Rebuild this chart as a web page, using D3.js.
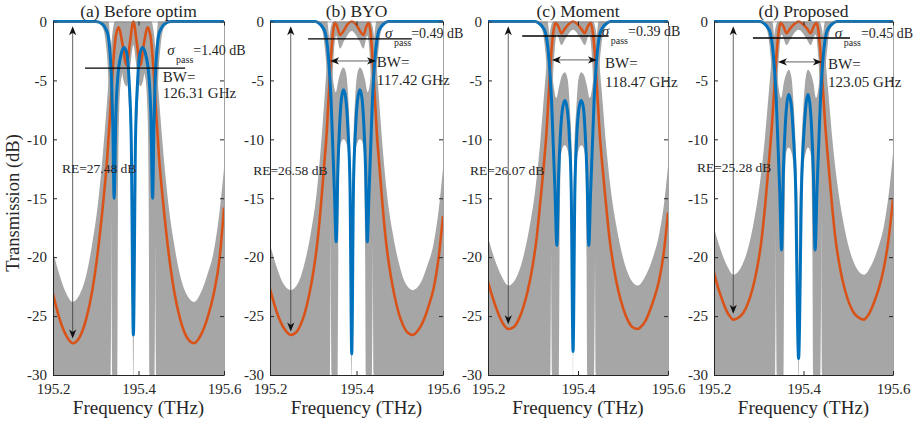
<!DOCTYPE html>
<html>
<head>
<meta charset="utf-8">
<script src="https://cdn.jsdelivr.net/npm/d3@7"></script>
<style>
  body { margin: 0; background: #fff; }
  svg text { font-family: "Liberation Serif", "Times New Roman", serif; fill: #262626; }
</style>
</head>
<body>
<svg id="chart" width="913" height="421"></svg>
<script>
// ---- axis ticks and labels
const xTicks = [195.2, 195.4, 195.6];
const yTicks = [-30, -25, -20, -15, -10, -5, 0];
const titles = ["(a) Before optim", "(b) BYO", "(c) Moment", "(d) Proposed"];
const reValues = [27.48, 26.58, 26.07, 25.28];
const sigmaValues = [1.40, 0.49, 0.39, 0.45];
const bwValues = [126.31, 117.42, 118.47, 123.05];

// ---- (a) Before optim : [frequency THz, transmission dB]
const orangeA = [[195.200,-23.1],[195.215,-25.2],[195.230,-26.6],[195.246,-27.3],[195.262,-26.8],[195.278,-25.2],[195.292,-22.8],[195.305,-19.5],[195.317,-15.5],[195.327,-11.5],[195.335,-7.0],[195.341,-3.5],[195.347,-1.2],[195.354,-0.5],[195.362,-1.8],[195.372,-3.7],[195.380,-1.8],[195.388,0],[195.396,-1.8],[195.404,-3.7],[195.413,-1.8],[195.421,-0.5],[195.428,-1.2],[195.434,-3.5],[195.440,-7.0],[195.448,-11.5],[195.458,-15.5],[195.470,-19.5],[195.483,-22.8],[195.497,-25.2],[195.513,-26.8],[195.530,-27.3],[195.546,-26.6],[195.561,-25.2],[195.576,-23.1],[195.590,-20.0],[195.600,-15.8]];
const blueA = [[195.200,0],[195.300,0],[195.315,-0.2],[195.323,-0.6],[195.329,-1.2],[195.333,-2.5],[195.337,-5.0],[195.340,-9.0],[195.343,-15.0],[195.347,-8.0],[195.352,-4.5],[195.358,-3.0],[195.366,-2.2],[195.372,-2.6],[195.378,-5.0],[195.383,-10.0],[195.388,-26.6],[195.393,-10.0],[195.398,-5.0],[195.404,-2.6],[195.410,-2.2],[195.418,-3.0],[195.424,-4.5],[195.429,-8.0],[195.433,-15.0],[195.436,-9.0],[195.439,-5.0],[195.443,-2.5],[195.447,-1.2],[195.453,-0.6],[195.461,-0.2],[195.476,0],[195.600,0]];
const dropHiA = [[195.200,-19.5],[195.215,-21.5],[195.230,-23.0],[195.246,-23.8],[195.262,-23.2],[195.278,-21.5],[195.292,-18.8],[195.305,-15.5],[195.316,-11.5],[195.326,-7.0],[195.333,-3.5],[195.339,-1.0],[195.345,0],[195.430,0],[195.436,-1.0],[195.442,-3.5],[195.449,-7.0],[195.459,-11.5],[195.470,-15.5],[195.483,-18.8],[195.497,-21.5],[195.513,-23.2],[195.530,-23.8],[195.546,-23.0],[195.561,-21.5],[195.576,-19.5],[195.590,-16.0],[195.600,-12.5]];
const dropLoA = [[195.200,-31],[195.334,-31],[195.338,-16],[195.342,-8],[195.348,-4],[195.356,-3.0],[195.365,-5.0],[195.372,-5.5],[195.380,-4.0],[195.388,-2.0],[195.396,-4.0],[195.404,-5.5],[195.411,-5.0],[195.420,-3.0],[195.428,-4],[195.434,-8],[195.438,-16],[195.442,-31],[195.600,-31]];
const thruHiA = [[195.300,0],[195.330,0],[195.334,-1.5],[195.338,-3],[195.342,-4],[195.348,-3.5],[195.355,-2.0],[195.362,-1.2],[195.368,-1.3],[195.375,-2.8],[195.381,-6],[195.385,-12],[195.388,-24],[195.391,-12],[195.395,-6],[195.401,-2.8],[195.408,-1.3],[195.414,-1.2],[195.421,-2.0],[195.428,-3.5],[195.434,-4],[195.438,-3],[195.442,-1.5],[195.446,0],[195.478,0]];
const thruLoA = [[195.300,0],[195.316,-0.5],[195.324,-2],[195.331,-6],[195.336,-15],[195.339,-31],[195.350,-31],[195.352,-16],[195.355,-7.5],[195.360,-4.8],[195.366,-4.2],[195.372,-4.6],[195.378,-7.5],[195.383,-13],[195.386,-22],[195.388,-31],[195.390,-22],[195.393,-13],[195.398,-7.5],[195.404,-4.6],[195.410,-4.2],[195.416,-4.8],[195.421,-7.5],[195.424,-16],[195.426,-31],[195.437,-31],[195.440,-15],[195.445,-6],[195.452,-2],[195.460,-0.5],[195.478,0]];

// ---- (b) BYO
const orangeB = [[195.200,-22.7],[195.210,-24.0],[195.220,-25.1],[195.230,-25.9],[195.240,-26.4],[195.248,-26.6],[195.260,-26.4],[195.270,-25.8],[195.280,-24.8],[195.290,-23.3],[195.300,-21.3],[195.310,-18.6],[195.318,-15.5],[195.325,-12.3],[195.331,-9.5],[195.337,-5.5],[195.342,-2.5],[195.346,-0.8],[195.350,-0.1],[195.355,-0.4],[195.362,-1.15],[195.370,-0.8],[195.380,-0.2],[195.389,0],[195.398,-0.2],[195.408,-0.8],[195.416,-1.15],[195.423,-0.4],[195.428,-0.1],[195.432,-0.8],[195.436,-2.5],[195.441,-5.5],[195.447,-9.5],[195.453,-12.3],[195.460,-15.5],[195.468,-18.6],[195.478,-21.3],[195.488,-23.3],[195.498,-24.8],[195.508,-25.8],[195.518,-26.4],[195.530,-26.6],[195.538,-26.4],[195.548,-25.9],[195.558,-25.1],[195.568,-24.0],[195.578,-22.7],[195.590,-20.0],[195.600,-16.5]];
const blueB = [[195.200,0],[195.305,0],[195.315,-0.2],[195.322,-0.5],[195.328,-1.0],[195.333,-2.2],[195.337,-4.0],[195.341,-6.5],[195.345,-10.5],[195.349,-14.5],[195.353,-18.7],[195.357,-12.5],[195.361,-8.8],[195.365,-6.6],[195.370,-5.8],[195.375,-6.5],[195.380,-9.0],[195.385,-14.0],[195.389,-28.2],[195.393,-14.0],[195.398,-9.0],[195.403,-6.5],[195.408,-5.8],[195.413,-6.6],[195.417,-8.8],[195.421,-12.5],[195.425,-18.7],[195.429,-14.5],[195.433,-10.5],[195.437,-6.5],[195.441,-4.0],[195.445,-2.2],[195.450,-1.0],[195.456,-0.5],[195.463,-0.2],[195.473,0],[195.600,0]];
const dropHiB = [[195.200,-18.9],[195.215,-20.8],[195.230,-22.2],[195.248,-22.8],[195.265,-22.2],[195.280,-20.5],[195.295,-17.8],[195.308,-14.5],[195.318,-10.5],[195.327,-6.0],[195.334,-2.5],[195.340,-0.6],[195.346,0],[195.432,0],[195.438,-0.6],[195.444,-2.5],[195.451,-6.0],[195.460,-10.5],[195.470,-14.5],[195.483,-17.8],[195.498,-20.5],[195.513,-22.2],[195.530,-22.8],[195.548,-22.2],[195.563,-20.8],[195.578,-18.9],[195.590,-16.0],[195.600,-12.5]];
const dropLoB = [[195.200,-31],[195.338,-31],[195.341,-15],[195.344,-6],[195.348,-2.5],[195.353,-1.2],[195.362,-2.3],[195.372,-1.6],[195.389,-0.8],[195.406,-1.6],[195.416,-2.3],[195.425,-1.2],[195.430,-2.5],[195.434,-6],[195.437,-15],[195.440,-31],[195.600,-31]];
const thruHiB = [[195.300,0],[195.332,0],[195.337,-1.5],[195.341,-3.5],[195.346,-5],[195.352,-6],[195.358,-5],[195.364,-4.2],[195.370,-3.9],[195.376,-4.4],[195.381,-6.5],[195.385,-10],[195.388,-17],[195.389,-24],[195.390,-17],[195.393,-10],[195.397,-6.5],[195.402,-4.4],[195.408,-3.9],[195.414,-4.2],[195.420,-5],[195.426,-6],[195.432,-5],[195.437,-3.5],[195.441,-1.5],[195.446,0],[195.478,0]];
const thruLoB = [[195.300,0],[195.318,-0.5],[195.326,-2],[195.333,-6],[195.339,-15],[195.343,-31],[195.356,-31],[195.358,-20],[195.361,-11],[195.365,-10.2],[195.370,-10],[195.375,-10.2],[195.380,-11],[195.384,-15],[195.387,-22],[195.389,-31],[195.391,-22],[195.394,-15],[195.398,-11],[195.403,-10.2],[195.408,-10],[195.413,-10.2],[195.417,-11],[195.420,-20],[195.422,-31],[195.435,-31],[195.439,-15],[195.445,-6],[195.452,-2],[195.460,-0.5],[195.478,0]];

// ---- (c) Moment
const orangeC = [[195.200,-22.1],[195.210,-23.4],[195.220,-24.5],[195.230,-25.4],[195.238,-25.9],[195.245,-26.1],[195.258,-25.9],[195.268,-25.3],[195.278,-24.3],[195.288,-22.9],[195.298,-21.0],[195.308,-18.4],[195.316,-15.4],[195.324,-12.2],[195.330,-9.4],[195.336,-5.5],[195.341,-2.5],[195.346,-0.7],[195.350,-0.1],[195.356,-0.4],[195.363,-1.0],[195.371,-0.6],[195.380,-0.2],[195.389,0],[195.398,-0.2],[195.407,-0.6],[195.415,-1.0],[195.422,-0.4],[195.428,-0.1],[195.432,-0.7],[195.437,-2.5],[195.442,-5.5],[195.448,-9.4],[195.454,-12.2],[195.462,-15.4],[195.470,-18.4],[195.480,-21.0],[195.490,-22.9],[195.500,-24.3],[195.510,-25.3],[195.520,-25.9],[195.533,-26.1],[195.540,-25.9],[195.550,-25.4],[195.560,-24.5],[195.570,-23.4],[195.580,-22.0],[195.591,-19.5],[195.600,-16.2]];
const blueC = [[195.200,0],[195.305,0],[195.315,-0.2],[195.322,-0.5],[195.328,-1.0],[195.333,-2.2],[195.337,-4.0],[195.341,-6.5],[195.345,-10.5],[195.349,-14.5],[195.353,-19.0],[195.357,-13.0],[195.361,-9.5],[195.366,-7.3],[195.371,-6.7],[195.376,-7.4],[195.381,-10.0],[195.385,-14.5],[195.389,-28.0],[195.393,-14.5],[195.397,-10.0],[195.402,-7.4],[195.407,-6.7],[195.412,-7.3],[195.416,-9.5],[195.420,-13.0],[195.424,-19.0],[195.428,-14.5],[195.432,-10.5],[195.436,-6.5],[195.440,-4.0],[195.444,-2.2],[195.449,-1.0],[195.455,-0.5],[195.462,-0.2],[195.472,0],[195.600,0]];
const dropHiC = [[195.200,-18.3],[195.215,-20.2],[195.230,-21.6],[195.245,-22.4],[195.262,-21.8],[195.277,-20.2],[195.292,-17.5],[195.305,-14.3],[195.316,-10.3],[195.325,-6.0],[195.333,-2.5],[195.339,-0.6],[195.345,0],[195.433,0],[195.439,-0.6],[195.445,-2.5],[195.453,-6.0],[195.462,-10.3],[195.473,-14.3],[195.486,-17.5],[195.501,-20.2],[195.516,-21.8],[195.533,-22.4],[195.550,-21.6],[195.565,-20.2],[195.580,-18.1],[195.591,-15.5],[195.600,-12.3]];
const dropLoC = [[195.200,-31],[195.338,-31],[195.341,-15],[195.344,-6],[195.348,-2.5],[195.353,-1.1],[195.363,-2.0],[195.373,-1.4],[195.389,-0.7],[195.405,-1.4],[195.415,-2.0],[195.425,-1.1],[195.430,-2.5],[195.434,-6],[195.437,-15],[195.440,-31],[195.600,-31]];
const thruHiC = [[195.300,0],[195.332,0],[195.337,-1.5],[195.341,-3.5],[195.346,-5.5],[195.352,-6.5],[195.358,-5.5],[195.364,-4.6],[195.371,-4.3],[195.377,-4.9],[195.382,-7.5],[195.386,-11],[195.388,-17],[195.389,-24],[195.390,-17],[195.392,-11],[195.396,-7.5],[195.401,-4.9],[195.407,-4.3],[195.414,-4.6],[195.420,-5.5],[195.426,-6.5],[195.432,-5.5],[195.437,-3.5],[195.441,-1.5],[195.446,0],[195.478,0]];
const thruLoC = [[195.300,0],[195.318,-0.5],[195.326,-2],[195.333,-6],[195.339,-15],[195.343,-31],[195.357,-31],[195.359,-20],[195.362,-11.5],[195.366,-10.7],[195.371,-10.5],[195.376,-10.8],[195.381,-12],[195.385,-16],[195.388,-24],[195.389,-31],[195.390,-24],[195.393,-16],[195.397,-12],[195.402,-10.8],[195.407,-10.5],[195.412,-10.7],[195.416,-11.5],[195.419,-20],[195.421,-31],[195.435,-31],[195.439,-15],[195.445,-6],[195.452,-2],[195.460,-0.5],[195.478,0]];

// ---- (d) Proposed
const orangeD = [[195.200,-21.3],[195.210,-22.7],[195.220,-23.8],[195.230,-24.7],[195.237,-25.1],[195.243,-25.3],[195.256,-25.1],[195.266,-24.7],[195.276,-23.9],[195.286,-22.7],[195.296,-21.0],[195.306,-18.6],[195.315,-15.3],[195.323,-11.8],[195.330,-8.5],[195.336,-4.9],[195.341,-2.2],[195.345,-0.7],[195.349,-0.1],[195.355,-0.4],[195.362,-1.0],[195.370,-0.6],[195.380,-0.2],[195.389,0],[195.398,-0.2],[195.408,-0.6],[195.416,-1.0],[195.423,-0.4],[195.429,-0.1],[195.433,-0.7],[195.437,-2.2],[195.442,-4.9],[195.448,-8.5],[195.455,-11.8],[195.463,-15.3],[195.472,-18.6],[195.482,-21.0],[195.492,-22.7],[195.502,-23.9],[195.512,-24.7],[195.522,-25.1],[195.535,-25.3],[195.541,-25.1],[195.548,-24.7],[195.558,-23.8],[195.568,-22.7],[195.578,-21.2],[195.590,-18.5],[195.600,-15.1]];
const blueD = [[195.200,0],[195.303,0],[195.313,-0.2],[195.320,-0.5],[195.326,-1.0],[195.331,-2.2],[195.335,-4.0],[195.339,-6.5],[195.343,-10.5],[195.347,-14.5],[195.351,-19.4],[195.355,-12.8],[195.359,-9.0],[195.363,-6.9],[195.367,-6.2],[195.372,-6.9],[195.377,-9.4],[195.382,-13.5],[195.389,-28.6],[195.396,-13.5],[195.401,-9.4],[195.406,-6.9],[195.410,-6.2],[195.414,-6.9],[195.418,-9.0],[195.422,-12.8],[195.426,-19.4],[195.430,-14.5],[195.434,-10.5],[195.438,-6.5],[195.442,-4.0],[195.446,-2.2],[195.451,-1.0],[195.457,-0.5],[195.464,-0.2],[195.475,0],[195.600,0]];
const dropHiD = [[195.200,-17.5],[195.215,-19.4],[195.230,-20.8],[195.243,-21.5],[195.260,-20.9],[195.275,-19.4],[195.290,-16.8],[195.303,-13.6],[195.314,-9.8],[195.323,-5.8],[195.331,-2.4],[195.337,-0.6],[195.343,0],[195.435,0],[195.441,-0.6],[195.447,-2.4],[195.455,-5.8],[195.464,-9.8],[195.475,-13.6],[195.488,-16.8],[195.503,-19.4],[195.518,-20.9],[195.535,-21.5],[195.550,-20.8],[195.565,-19.4],[195.580,-17.3],[195.591,-14.5],[195.600,-11.2]];
const dropLoD = [[195.200,-31],[195.336,-31],[195.339,-15],[195.342,-6],[195.346,-2.5],[195.351,-1.1],[195.362,-2.0],[195.372,-1.4],[195.389,-0.7],[195.406,-1.4],[195.416,-2.0],[195.427,-1.1],[195.432,-2.5],[195.436,-6],[195.439,-15],[195.442,-31],[195.600,-31]];
const thruHiD = [[195.300,0],[195.330,0],[195.335,-1.5],[195.339,-3.5],[195.344,-5.5],[195.350,-6.5],[195.356,-5.2],[195.362,-4.4],[195.367,-4.1],[195.373,-4.7],[195.378,-7],[195.384,-12],[195.388,-18],[195.389,-24],[195.390,-18],[195.394,-12],[195.400,-7],[195.405,-4.7],[195.410,-4.1],[195.416,-4.4],[195.422,-5.2],[195.428,-6.5],[195.434,-5.5],[195.439,-3.5],[195.443,-1.5],[195.448,0],[195.480,0]];
const thruLoD = [[195.300,0],[195.316,-0.5],[195.324,-2],[195.331,-6],[195.337,-15],[195.341,-31],[195.355,-31],[195.357,-20],[195.360,-11.5],[195.363,-10.9],[195.367,-10.7],[195.372,-11],[195.377,-12],[195.383,-16],[195.387,-24],[195.389,-31],[195.391,-24],[195.395,-16],[195.401,-12],[195.406,-11],[195.410,-10.7],[195.414,-10.9],[195.417,-11.5],[195.420,-20],[195.422,-31],[195.437,-31],[195.441,-15],[195.447,-6],[195.454,-2],[195.462,-0.5],[195.480,0]];

// ---- annotation anchors, in data units (freq, dB)
const reArrow = [[195.246,-26.9],[195.248,-26.3],[195.245,-25.7],[195.243,-24.8]];
const reText  = [[195.221,-12.85],[195.161,-13.0],[195.160,-13.0],[195.162,-12.75]];
const sigLine = [[195.275,195.509,-3.95],[195.288,195.528,-1.48],[195.276,195.468,-1.23],[195.287,195.504,-1.40]];
const sigText = [[195.467,-2.84],[195.466,-1.40],[195.453,-1.23],[195.470,-1.40]];
const bwArrow = [null,[195.339,195.445,-3.35],[195.342,195.442,-3.26],[195.343,195.441,-3.43]];
const bwText  = [[195.457,-5.13,-6.48],[195.447,-3.86,-5.38],[195.460,-3.94,-5.55],[195.455,-4.0,-5.6]];

// ---- layout
const panelX = [[53,224],[270,443],[488,668],[714,893]];
const plotTop = 21.5, plotBottom = 375;
const GRAY = "#a6a6a6", ORANGE = "#D95319", BLUE = "#0072BD", AXIS = "#262626";
const FONT = "'Liberation Serif','Times New Roman',serif";

const panels = [
  {orange: orangeA, blue: blueA, dropHi: dropHiA, dropLo: dropLoA, thruHi: thruHiA, thruLo: thruLoA},
  {orange: orangeB, blue: blueB, dropHi: dropHiB, dropLo: dropLoB, thruHi: thruHiB, thruLo: thruLoB},
  {orange: orangeC, blue: blueC, dropHi: dropHiC, dropLo: dropLoC, thruHi: thruHiC, thruLo: thruLoC},
  {orange: orangeD, blue: blueD, dropHi: dropHiD, dropLo: dropLoD, thruHi: thruHiD, thruLo: thruLoD}
];

const svg = d3.select("#chart");
const defs = svg.append("defs");

function arrowHead(g, px, py, angle) {
    g.append("path")
        .attr("d", "M0,0L-3.6,9L0,6.5L3.6,9Z")
        .attr("transform", `translate(${px},${py}) rotate(${angle})`)
        .attr("fill", "#111");
}

panels.forEach((p, i) => {
    const x = d3.scaleLinear().domain([195.2, 195.6]).range(panelX[i]);
    const y = d3.scaleLinear().domain([-30, 0]).range([plotBottom, plotTop]);
    const g = svg.append("g");

    defs.append("clipPath").attr("id", "clip" + i)
        .append("rect")
        .attr("x", panelX[i][0]).attr("y", plotTop - 3)
        .attr("width", panelX[i][1] - panelX[i][0])
        .attr("height", plotBottom - plotTop + 3);

    const plot = g.append("g").attr("clip-path", `url(#clip${i})`);

    const line = d3.line()
        .x(d => x(d[0]))
        .y(d => y(d[1]))
        .curve(d3.curveMonotoneX);

    // gray spread from hi/lo envelopes
    function band(hi, lo) {
        const top = line(hi);
        const bottom = line(lo.slice().reverse());
        return top + "L" + bottom.slice(1) + "Z";
    }

    plot.append("path").attr("d", band(p.dropHi, p.dropLo)).attr("fill", GRAY);
    plot.append("path").attr("d", band(p.thruHi, p.thruLo)).attr("fill", GRAY);

    plot.append("path").datum(p.orange)
        .attr("d", line).attr("fill", "none")
        .attr("stroke", ORANGE).attr("stroke-width", 2.6);

    plot.append("path").datum(p.blue)
        .attr("d", line).attr("fill", "none")
        .attr("stroke", BLUE).attr("stroke-width", 3)
        .attr("stroke-linejoin", "round");

    // axes (MATLAB style, ticks inside)
    const axL = g.append("g").attr("transform", `translate(${panelX[i][0]},0)`)
        .call(d3.axisLeft(y).tickValues(yTicks).tickSizeInner(-4).tickSizeOuter(0)
            .tickPadding(6).tickFormat(d => String(d)));
    const axR = g.append("g").attr("transform", `translate(${panelX[i][1]},0)`)
        .call(d3.axisRight(y).tickValues(yTicks).tickSizeInner(-4).tickSizeOuter(0).tickFormat(""));
    const axB = g.append("g").attr("transform", `translate(0,${plotBottom})`)
        .call(d3.axisBottom(x).tickValues(xTicks).tickSizeInner(-4).tickSizeOuter(0)
            .tickPadding(8).tickFormat(d3.format(".1f")));
    const axT = g.append("g").attr("transform", `translate(0,${plotTop})`)
        .call(d3.axisTop(x).tickValues(xTicks).tickSizeInner(-4).tickSizeOuter(0).tickFormat(""));

    [axL, axB].forEach(a => {
        a.attr("font-family", FONT);
        a.select(".domain").attr("stroke", AXIS).attr("stroke-width", 1);
        a.selectAll(".tick line").attr("stroke", AXIS);
        a.selectAll("text").attr("font-size", 15).attr("fill", AXIS);
    });
    [axR, axT].forEach(a => {
        a.select(".domain").attr("stroke", "#7a7a7a").attr("stroke-width", 0.7);
        a.selectAll(".tick line").attr("stroke", AXIS);
    });

    // title
    g.append("text")
        .attr("x", (panelX[i][0] + panelX[i][1]) / 2).attr("y", 17)
        .attr("text-anchor", "middle").attr("font-size", 17.5)
        .text(titles[i]);

    // x label
    g.append("text")
        .attr("x", (panelX[i][0] + panelX[i][1]) / 2).attr("y", 414)
        .attr("text-anchor", "middle").attr("font-size", 19)
        .text("Frequency (THz)");

    // RE double arrow
    const ra = reArrow[i];
    const ax = x(ra[0]), yTopTip = y(-0.4), yBotTip = y(ra[1]);
    g.append("line")
        .attr("x1", ax).attr("x2", ax)
        .attr("y1", yTopTip + 4).attr("y2", yBotTip - 4)
        .attr("stroke", "#3a3a3a").attr("stroke-width", 0.8);
    arrowHead(g, ax, yTopTip, 0);
    arrowHead(g, ax, yBotTip, 180);

    g.append("text")
        .attr("x", x(reText[i][0])).attr("y", y(reText[i][1]))
        .attr("font-size", 13.5)
        .text(`RE=${reValues[i].toFixed(2)} dB`);

    // sigma_pass line and label
    const sl = sigLine[i];
    g.append("line")
        .attr("x1", x(sl[0])).attr("x2", x(sl[1]))
        .attr("y1", y(sl[2])).attr("y2", y(sl[2]))
        .attr("stroke", "#000").attr("stroke-width", 1.3);

    const st = g.append("text")
        .attr("x", x(sigText[i][0])).attr("y", y(sigText[i][1]))
        .attr("font-size", 14);
    st.append("tspan").attr("font-style", "italic").attr("font-size", 15).text("σ");
    st.append("tspan").attr("font-size", 10).attr("dx", 1.5).attr("dy", 8).text("pass");
    st.append("tspan").attr("dy", -8).text(`=${sigmaValues[i].toFixed(2)} dB`);

    // BW arrow and label
    if (bwArrow[i]) {
        const b = bwArrow[i];
        const by = y(b[2]);
        g.append("line")
            .attr("x1", x(b[0]) + 4).attr("x2", x(b[1]) - 4)
            .attr("y1", by).attr("y2", by)
            .attr("stroke", "#3a3a3a").attr("stroke-width", 0.8);
        arrowHead(g, x(b[0]), by, -90);
        arrowHead(g, x(b[1]), by, 90);
    }
    const bt = bwText[i];
    g.append("text")
        .attr("x", x(bt[0])).attr("y", y(bt[1]))
        .attr("font-size", 15).text("BW=");
    g.append("text")
        .attr("x", x(bt[0])).attr("y", y(bt[2]))
        .attr("font-size", 15).text(`${bwValues[i].toFixed(2)} GHz`);
});

// shared y label
svg.append("text")
    .attr("transform", "translate(19,203) rotate(-90)")
    .attr("text-anchor", "middle").attr("font-size", 18.5)
    .text("Transmission (dB)");
</script>
</body>
</html>
